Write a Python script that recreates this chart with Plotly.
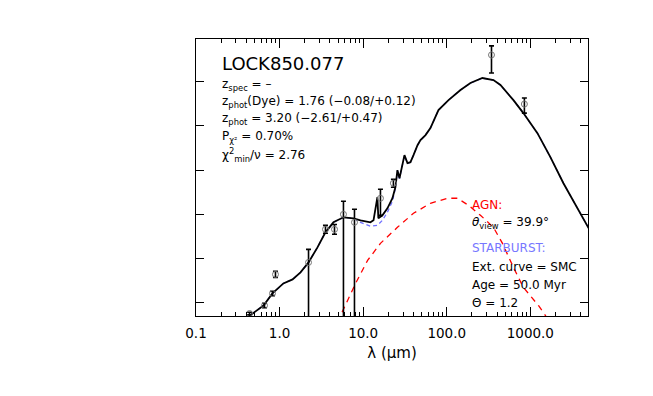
import plotly.graph_objects as go

# Modelo total (negro): longitud de onda (um) y log10 del flujo (unidades arbitrarias)
total_wl = [0.340, 0.437, 0.642, 0.822, 1.11, 1.43, 1.78, 2.22, 2.84, 3.54, 4.41, 5.81, 7.66,
            9.29, 12.2, 13.3, 14.8, 15.2, 17.0, 19.5, 22.4, 24.3, 25.7, 27.2, 31.2, 33.9, 36.8,
            40.0, 44.7, 48.5, 55.7, 63.8, 79.6, 105, 146, 192, 267, 362, 439, 628, 826, 1216,
            1738, 2489, 3656, 5000]
total_logf = [-0.441, -0.283, -0.057, 0.215, 0.441, 0.532, 0.690, 0.916, 1.256, 1.595, 1.821,
              1.934, 1.912, 1.867, 1.821, 1.867, 2.387, 1.912, 1.980, 2.138, 2.364, 2.613, 2.998,
              2.817, 3.337, 3.156, 3.179, 3.337, 3.563, 3.676, 3.790, 3.948, 4.355, 4.581, 4.808,
              4.966, 5.079, 5.034, 4.921, 4.581, 4.287, 3.835, 3.292, 2.704, 2.161, 1.686]

# Componente starburst (azul discontinuo)
sb_wl = [0.340, 0.437, 0.642, 0.822, 1.11, 1.43, 1.78, 2.22, 2.84, 3.54, 4.41, 5.81, 7.66,
         9.29, 12.2, 14.8, 17.0, 19.5, 22.4, 24.3, 25.7, 27.2, 31.2, 33.9, 36.8, 40.0, 44.7,
         48.5, 55.7, 63.8, 79.6, 105, 146, 192, 267, 362, 439, 628, 826, 1216, 1738, 2489,
         3656, 5000]
sb_logf = [-0.441, -0.283, -0.057, 0.215, 0.441, 0.532, 0.690, 0.916, 1.256, 1.595, 1.821,
           1.934, 1.912, 1.821, 1.731, 1.753, 1.867, 2.047, 2.296, 2.590, 2.990, 2.810, 3.330,
           3.150, 3.175, 3.335, 3.560, 3.676, 3.790, 3.948, 4.355, 4.581, 4.808, 4.966, 5.079,
           5.034, 4.921, 4.581, 4.287, 3.835, 3.292, 2.704, 2.161, 1.686]

# Componente AGN (rojo discontinuo)
agn_wl = [5.07, 5.36, 8.11, 11.3, 16.1, 25.7, 40.0, 63.8, 102, 134, 182, 253, 362, 464, 628,
          826, 1250, 1517, 1648]
agn_logf = [-0.441, -0.283, 0.441, 0.962, 1.346, 1.708, 2.025, 2.251, 2.364, 2.364, 2.206,
            1.980, 1.708, 1.346, 0.803, 0.351, -0.057, -0.283, -0.441]

# Fotometría observada
obs_wl = [0.437, 0.660, 0.822, 0.893, 2.22, 3.54, 4.54, 5.81, 7.87, 16.1, 23.0, 343, 849]
obs_logf = [-0.238, -0.057, 0.215, 0.645, 0.916, 1.663, 1.663, 2.002, 1.821, 2.364, 2.704,
            5.600, 4.491]
obs_err_up = [0.03, 0.05, 0.05, 0.07, 0.294, 0.09, 0.11, 0.294, 0.294, 0.204, 0.09, 0.204, 0.136]
obs_err_dn = [0.03, 0.05, 0.05, 0.07, 3.0, 0.09, 0.11, 3.0, 3.0, 0.385, 0.09, 0.407, 0.204]

x_tickvals = [0.1, 1, 10, 100, 1000]
x_ticktext = ["0.1", "1.0", "10.0", "100.0", "1000.0"]
x_minor = [m * d for d in (0.1, 1, 10, 100, 1000) for m in range(2, 10)]

FONT = "DejaVu Sans"

fig = go.Figure()
fig.add_trace(go.Scatter(
    x=sb_wl, y=sb_logf, mode="lines",
    line=dict(color="#6f6fff", width=1.3, dash="4px,3px"),
))
fig.add_trace(go.Scatter(
    x=agn_wl, y=agn_logf, mode="lines",
    line=dict(color="#ff0000", width=1.3, dash="6px,5px"),
))
fig.add_trace(go.Scatter(
    x=total_wl, y=total_logf, mode="lines",
    line=dict(color="black", width=1.8),
))
fig.add_trace(go.Scatter(
    x=obs_wl, y=obs_logf, mode="markers",
    marker=dict(symbol="circle-open", size=6, color="#777777", line=dict(width=1)),
    error_y=dict(type="data", symmetric=False, array=obs_err_up, arrayminus=obs_err_dn,
                 color="black", thickness=1.6, width=2.5),
))

left_lines = [
    ("z<sub>spec</sub> = \u2013", 85),
    ("z<sub>phot</sub>(Dye) = 1.76 (\u22120.08/+0.12)", 102),
    ("z<sub>phot</sub> = 3.20 (\u22122.61/+0.47)", 119),
    ("P<sub>\u03c7\u00b2</sub> = 0.70%", 137),
    ("\u03c7<sup>2</sup><sub>min</sub>/\u03bd = 2.76", 155),
]
right_lines = [
    ("AGN:", 205, "#ff0000"),
    ("<i>\u03b8</i><sub>view</sub> = 39.9\u00b0", 223, "black"),
    ("STARBURST:", 248, "#7777ff"),
    ("Ext. curve = SMC", 267, "black"),
    ("Age = 50.0 Myr", 285, "black"),
    ("\u0398 = 1.2", 303, "black"),
]

# marco del panel en la imagen (px); la página añade 8px de margen al body
PLOT_L, PLOT_T, PLOT_W, PLOT_H = 196, 39, 392, 277
PAGE_PAD = 8


def paper_xy(px, py):
    return (px - PLOT_L) / PLOT_W, (PLOT_T + PLOT_H - py) / PLOT_H


ax, ay = paper_xy(220, 63)
fig.add_annotation(text="LOCK850.077", x=ax, y=ay, xref="paper", yref="paper",
                   xanchor="left", yanchor="middle", showarrow=False,
                   font=dict(family=FONT, size=18, color="black"))
for txt, py in left_lines:
    ax, ay = paper_xy(220, py)
    fig.add_annotation(text=txt, x=ax, y=ay, xref="paper", yref="paper",
                       xanchor="left", yanchor="middle", showarrow=False,
                       font=dict(family=FONT, size=12, color="black"))
for txt, py, col in right_lines:
    ax, ay = paper_xy(470, py)
    fig.add_annotation(text=txt, x=ax, y=ay, xref="paper", yref="paper",
                       xanchor="left", yanchor="middle", showarrow=False,
                       font=dict(family=FONT, size=12, color=col))

ml, mt = PLOT_L - PAGE_PAD, PLOT_T - PAGE_PAD
fig.update_layout(
    width=653, height=396,
    margin=dict(l=ml, r=653 - ml - PLOT_W, t=mt, b=396 - mt - PLOT_H),
    paper_bgcolor="white", plot_bgcolor="white",
    showlegend=False,
    font=dict(family=FONT, color="black"),
)
fig.update_xaxes(
    type="log", range=[-1, 3.69],
    tickmode="array", tickvals=x_tickvals, ticktext=x_ticktext,
    ticks="inside", ticklen=9, tickwidth=1, tickcolor="black",
    minor=dict(tickmode="array", tickvals=x_minor, ticks="inside", ticklen=4,
               tickwidth=1, tickcolor="black", showgrid=False),
    showline=True, linecolor="black", linewidth=1, mirror="ticks",
    showgrid=False, zeroline=False,
    ticklabelstandoff=5,
    tickfont=dict(family=FONT, size=13.5),
    title=dict(text="\u03bb (\u03bcm)", font=dict(family=FONT, size=15), standoff=7),
)
fig.update_yaxes(
    range=[-0.294, 5.96],
    tickmode="array", tickvals=[0, 1, 2, 3, 4, 5],
    ticks="inside", ticklen=8, tickwidth=1, tickcolor="black",
    showticklabels=False,
    showline=True, linecolor="black", linewidth=1, mirror="ticks",
    showgrid=False, zeroline=False,
)

fig.write_html("out.html")
